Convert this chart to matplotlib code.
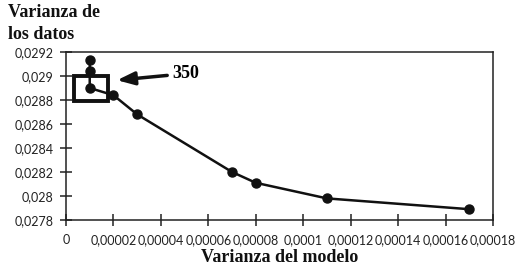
import matplotlib
matplotlib.use("Agg")
import matplotlib.pyplot as plt
from matplotlib.patches import Rectangle

# Data
model_var = [0.00001, 0.00001, 0.00001, 0.00002, 0.00003, 0.00007, 0.00008, 0.00011, 0.00017]
data_var = [0.02913, 0.02904, 0.02890, 0.02884, 0.02868, 0.02820, 0.02811, 0.02798, 0.02789]
x_ticks = [0, 0.00002, 0.00004, 0.00006, 0.00008, 0.0001, 0.00012, 0.00014, 0.00016, 0.00018]
x_tick_labels = ["0", "0,00002", "0,00004", "0,00006", "0,00008", "0,0001", "0,00012", "0,00014", "0,00016", "0,00018"]
y_ticks = [0.0278, 0.028, 0.0282, 0.0284, 0.0286, 0.0288, 0.029, 0.0292]
y_tick_labels = ["0,0278", "0,028", "0,0282", "0,0284", "0,0286", "0,0288", "0,029", "0,0292"]
annotation_label = "350"

fig = plt.figure(figsize=(5.24, 2.70), dpi=100)
ax = fig.add_axes([66/524, 1-220/270, (493-66)/524, (220-52)/270])

ax.plot(model_var, data_var, color="#111111", lw=1.8, marker="o", ms=6.5, zorder=3)

ax.set_xlim(0, 0.00018)
ax.set_ylim(0.0278, 0.0292)
ax.set_xticks(x_ticks)
ax.set_xticklabels(x_tick_labels)
ax.set_yticks(y_ticks)
ax.set_yticklabels(y_tick_labels)

for lab in ax.get_xticklabels() + ax.get_yticklabels():
    lab.set_fontfamily("Lato")
    lab.set_fontsize(9)
    lab.set_color("#222222")
ax.tick_params(axis="both", direction="inout", length=8, width=1.1, color="#222222")
ax.tick_params(axis="x", pad=6)
ax.tick_params(axis="y", pad=5)
for s in ax.spines.values():
    s.set_linewidth(1.1)
    s.set_color("#222222")

# Highlight rectangle
ax.add_patch(Rectangle((0.0000035, 0.02879), 0.0000142, 0.000213, fill=False,
                       lw=2.8, edgecolor="#111111", zorder=4))
ax.annotate(annotation_label, xy=(0.0000215, 0.028965), xytext=(0.000045, 0.02902),
            fontsize=13, fontweight="bold", family="Liberation Serif", va="center", ha="left",
            arrowprops=dict(arrowstyle="-|>,head_length=0.8,head_width=0.3", lw=2.5, color="#111111",
                            shrinkA=2, shrinkB=0))

fig.text(8/524, 1-4/270, "Varianza de\nlos datos", ha="left", va="top", fontsize=13,
         fontweight="bold", family="Liberation Serif", linespacing=1.35, color="#111111")
fig.text(280/524, 1-257/270, "Varianza del modelo", ha="center", va="center", fontsize=13,
         fontweight="bold", family="Liberation Serif", color="#111111")

fig.savefig("out.png", dpi=100)
